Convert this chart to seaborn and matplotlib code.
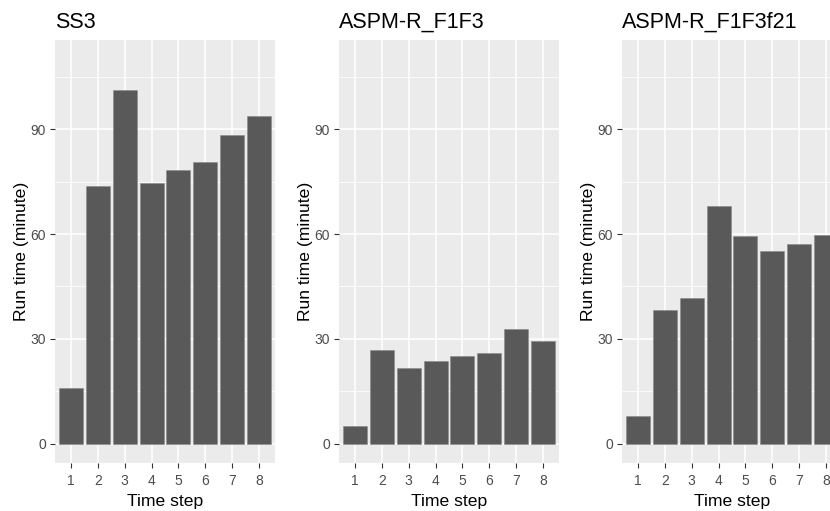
import pandas as pd
import numpy as np
import matplotlib
matplotlib.use("Agg")
import matplotlib.pyplot as plt
import seaborn as sns
from matplotlib.ticker import MultipleLocator

# ---------------------------------------------------------
# DATA
# ---------------------------------------------------------
steps = [1, 2, 3, 4, 5, 6, 7, 8]
ss3 = [16.0, 73.8, 101.3, 74.6, 78.3, 80.5, 88.2, 93.9]
aspm_f1f3 = [5.1, 26.9, 21.7, 23.6, 25.2, 25.9, 32.9, 29.4]
aspm_f1f3f21 = [8.0, 38.4, 41.8, 68.1, 59.4, 55.1, 57.2, 59.7]
titles = ["SS3", "ASPM-R_F1F3", "ASPM-R_F1F3f21"]
y_ticks = [0, 30, 60, 90]

sns.set_theme(style="darkgrid")
plt.rcParams["font.family"] = ["Liberation Sans", "DejaVu Sans"]

BG = "#EBEBEB"
BAR = "#595959"
TXT = "#4D4D4D"

fig = plt.figure(figsize=(8.3, 5.11), dpi=100)
W, H = 830, 511
lefts = [55, 339, 622]
top, bottom, pw = 40, 463, 220

for left, title, vals in zip(lefts, titles, [ss3, aspm_f1f3, aspm_f1f3f21]):
    ax = fig.add_axes([left / W, (H - bottom) / H, pw / W, (bottom - top) / H])
    df = pd.DataFrame({"step": steps, "time": vals})
    sns.barplot(data=df, x="step", y="time", color=BAR, saturation=1, width=0.9,
                edgecolor="#8a8a8a", linewidth=0.4, ax=ax, zorder=3)
    ax.set_facecolor(BG)
    ax.set_xlim(-0.6, 7.6)
    ax.set_ylim(-5.5, 115.5)
    ax.set_yticks(y_ticks)
    ax.yaxis.set_minor_locator(MultipleLocator(15))
    ax.set_xticks(range(len(steps)))
    ax.set_xticklabels([str(s) for s in steps])
    ax.grid(which="major", color="white", linewidth=1.1, zorder=0)
    ax.grid(which="minor", axis="y", color="white", linewidth=0.55, zorder=0)
    ax.set_axisbelow(True)
    for s in ax.spines.values():
        s.set_visible(False)
    ax.tick_params(axis="both", which="major", length=3.5, width=0.8, color="#333333",
                   labelsize=10, labelcolor=TXT, pad=3, bottom=True, left=True)
    ax.tick_params(axis="x", which="major", pad=4.5)
    ax.tick_params(axis="y", which="minor", length=0)
    ax.set_xlabel("Time step", fontsize=12.6, color="black", labelpad=4)
    ax.set_ylabel("Run time (minute)", fontsize=12.6, color="black", labelpad=1)
    ax.set_title(title, loc="left", fontsize=15.5, color="black", pad=9)

plt.savefig("out.png", dpi=100)
plt.close()
